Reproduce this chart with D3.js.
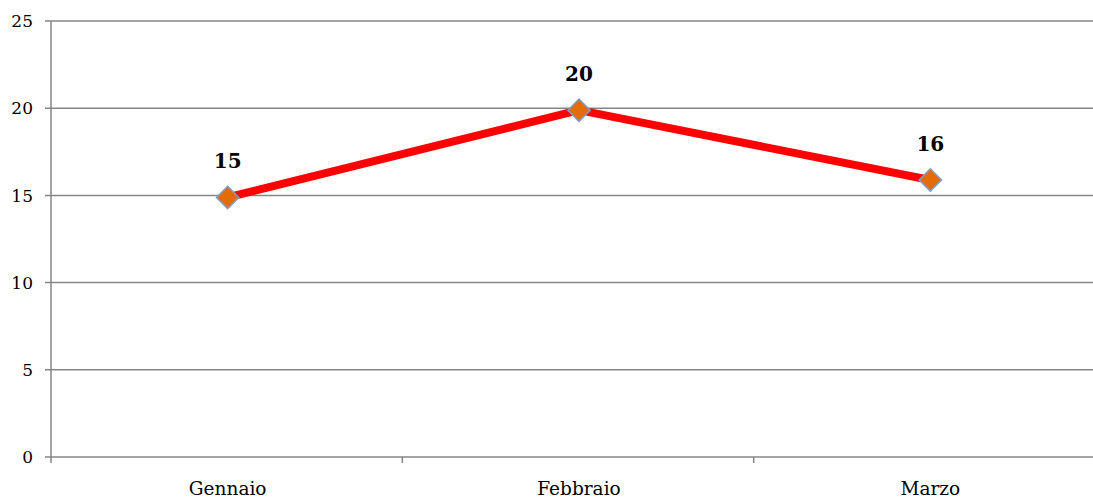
<!DOCTYPE html>
<html><head><meta charset="utf-8">
<script src="https://cdn.jsdelivr.net/npm/d3@7"></script>
<style>body{margin:0;background:#fff;}svg{display:block;}</style>
</head><body>
<svg id="c" width="1093" height="498"></svg>
<script>
const categories = ["Gennaio", "Febbraio", "Marzo"];
const values = [15, 20, 16];
const yTicks = [0, 5, 10, 15, 20, 25];

(function () {
const svg = d3.select("#c");
const mLeft = 51, mRight = 1106, mTop = 21, mBottom = 457;
const font = "'DejaVu Serif', 'Liberation Serif', serif";

const x = d3.scaleBand().domain(categories).range([mLeft + 1, mRight]);
const y = d3.scaleLinear().domain([0, 25]).range([mBottom, mTop]);

// gridlines
svg.append("g").selectAll("line").data(yTicks).join("line")
  .attr("x1", mLeft - 6).attr("x2", 1093)
  .attr("y1", d => y(d)).attr("y2", d => y(d))
  .attr("stroke", "#868686").attr("stroke-width", 1.5);

// y axis line
svg.append("line").attr("x1", mLeft).attr("x2", mLeft).attr("y1", mTop).attr("y2", mBottom + 6)
  .attr("stroke", "#868686").attr("stroke-width", 1.5);

// x ticks at band boundaries
const bounds = categories.map(c => x(c)).concat([x(categories[2]) + x.bandwidth()]);
svg.append("g").selectAll("line").data(bounds.slice(1)).join("line")
  .attr("x1", d => d - 1).attr("x2", d => d - 1).attr("y1", mBottom).attr("y2", mBottom + 6)
  .attr("stroke", "#868686").attr("stroke-width", 1.5);

// y labels
svg.append("g").selectAll("text").data(yTicks).join("text")
  .attr("x", 33).attr("y", d => y(d)).attr("dy", "0.36em")
  .attr("text-anchor", "end").attr("font-family", font).attr("font-size", 17)
  .attr("fill", "#000").text(d => d);

// x labels
svg.append("g").selectAll("text").data(categories).join("text")
  .attr("x", d => x(d) + x.bandwidth() / 2).attr("y", 495)
  .attr("text-anchor", "middle").attr("font-family", font).attr("font-size", 18.5)
  .attr("fill", "#000").text(d => d);

const px = (d, i) => x(categories[i]) + x.bandwidth() / 2;
const py = d => y(d) + 2;

// line
const line = d3.line().x((d, i) => px(d, i)).y(py);
svg.append("path").datum(values).attr("d", line)
  .attr("fill", "none").attr("stroke", "#FF0000").attr("stroke-width", 8)
  .attr("stroke-linejoin", "round");

// markers
svg.append("g").selectAll("path").data(values).join("path")
  .attr("transform", (d, i) => `translate(${px(d, i)},${py(d)}) rotate(45)`)
  .attr("d", d3.symbol().type(d3.symbolSquare).size(250))
  .attr("fill", "#E36C09").attr("stroke", "#7F9DCB").attr("stroke-width", 1.5);

// data labels
svg.append("g").selectAll("text").data(values).join("text")
  .attr("x", (d, i) => px(d, i)).attr("y", d => y(d) - 27)
  .attr("text-anchor", "middle").attr("font-family", font).attr("font-size", 20)
  .attr("font-weight", "bold").attr("fill", "#000").text(d => d);
})();
</script>
</body></html>
